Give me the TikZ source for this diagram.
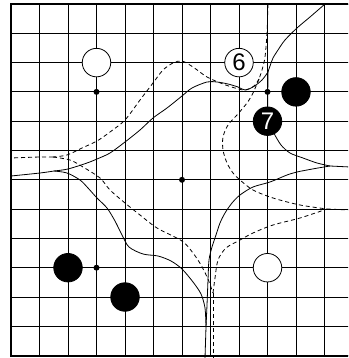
\documentclass[tikz,border=0pt]{standalone}
\usepackage{fontspec}
\setmainfont{Liberation Sans}
\usetikzlibrary{positioning}
\tikzset{
  edge/.style={line width=1.8pt, line cap=rect},
  gl/.style={line width=0.8pt},
  wst/.style={circle, draw, line width=0.8pt, fill=white, minimum size=28.5pt,
              inner sep=0pt, font=\fontsize{24}{24}\selectfont},
  bst/.style={circle, draw, line width=0.8pt, fill=black, text=white, minimum size=28.5pt,
              inner sep=0pt, font=\fontsize{24}{24}\selectfont},
  hoshi/.style={circle, fill=black, minimum size=6pt, inner sep=0pt},
  bnd/.style={line width=0.8pt},
  bndd/.style={line width=0.8pt, dash pattern=on 4pt off 3pt},
  px/.style={x=1pt, y=-1pt, shift={(-11pt,4pt)}},
}

\begin{document}
\begin{tikzpicture}[x=28.5pt, y=-29.3pt]
  \useasboundingbox (-11pt,4pt) rectangle (337pt,-354pt);
  \clip (-11pt,4pt) rectangle (337pt,-354pt);
  % board
  \foreach \i in {0,...,12} {
    \draw[gl] (\i,0) -- (\i,12);
    \draw[gl] (0,\i) -- (12.5,\i);
  }
  \draw[edge] (12.5,0) -- (0,0) -- (0,12) -- (12.5,12);
  \foreach \c/\r in {3/3,9/3,6/6,3/9,9/9}
    \node[hoshi] (h\c\r) at (\c,\r) {};
  % stones
  \node[wst] (w1) at (3,2) {};
  \node[wst] (w6) at (8,2) {6};
  \node[bst] (b1) at (10,3) {};
  \node[bst] (b7) at (9,4) {7};
  \node[bst] (b2) at (2,9) {};
  \node[bst] (b3) at (4,10) {};
  \node[wst] (w2) at (9,9) {};
  % boundaries
  \begin{scope}[px]
    \coordinate (j1) at (54,171);
    \coordinate (j2) at (268,72);
    \coordinate (j3) at (330,166);
    \coordinate (j4) at (206,327);
    \coordinate (k1) at (259,79);
    \coordinate (k2) at (53,157);
    \coordinate (k3) at (213,293);
    \coordinate (k4) at (327,209);

    \draw[bnd] plot[smooth] coordinates {(11,176) (40,173) (j1)};
    \draw[bnd] plot[smooth] coordinates {(j1) (68,169) (87,163) (97,159) (110,153)
      (125,142) (140,130) (153,118) (167,108) (182,96) (192,88) (207,82) (217,82)
      (228,84) (238,87) (245,90) (253,87) (262,80) (j2)};
    \draw[bnd] plot[smooth] coordinates {(j2) (270,66) (273,58) (278,50) (285,40)
      (297,28) (310,17) (325,4)};
    \draw[bnd] (j2) -- (b7);
    \draw[bnd] plot[smooth] coordinates {(b7.-62) (281,145) (290,153) (303,158)
      (317,163) (j3)};
    \draw[bnd] (j3) -- (350,167);
    \draw[bnd] plot[smooth] coordinates {(j3) (318,168) (307,170) (297,172) (287,175)
      (270,182) (253,187) (240,195) (232,203) (225,213) (220,223) (216,235)
      (212,247) (209,260) (208,280) (207,305) (j4)};
    \draw[bnd] plot[smooth] coordinates {(j1) (67,173) (80,180) (88,188) (97,198)
      (107,208) (115,221) (122,235) (129,247) (143,254) (158,256) (171,261)
      (182,269) (193,282) (201,294) (205,308) (j4)};
    \draw[bnd] (j4) -- (205,358);

    \draw[bndd] plot[smooth] coordinates {(268,4) (267,33) (265,57) (262,70) (k1)};
    \draw[bndd] plot[smooth] coordinates {(k1) (254,86) (245,90) (235,88) (223,84)
      (207,77) (193,67) (182,61) (173,63) (163,70) (153,83) (140,100) (125,120)
      (110,132) (97,141) (82,148) (67,155) (k2)};
    \draw[bndd] plot[smooth] coordinates {(k2) (40,157) (11,158)};
    \draw[bndd] plot[smooth] coordinates {(k2) (70,160) (83,167) (100,178) (110,190)
      (125,203) (140,215) (157,228) (182,241) (193,253) (201,265) (208,279) (k3)};
    \draw[bndd] (k3) -- (213,358);
    \draw[bndd] plot[smooth] coordinates {(k3) (215,278) (218,260) (226,248)
      (240,240) (253,233) (273,225) (300,218) (k4)};
    \draw[bndd] plot[smooth] coordinates {(k1) (253,93) (247,103) (237,115)
      (228,125) (223,137) (223,150) (227,163) (233,173) (240,180) (253,190)
      (273,198) (300,205) (k4)};
    \draw[bndd] (k4) -- (350,210);
  \end{scope}
\end{tikzpicture}
\end{document}
